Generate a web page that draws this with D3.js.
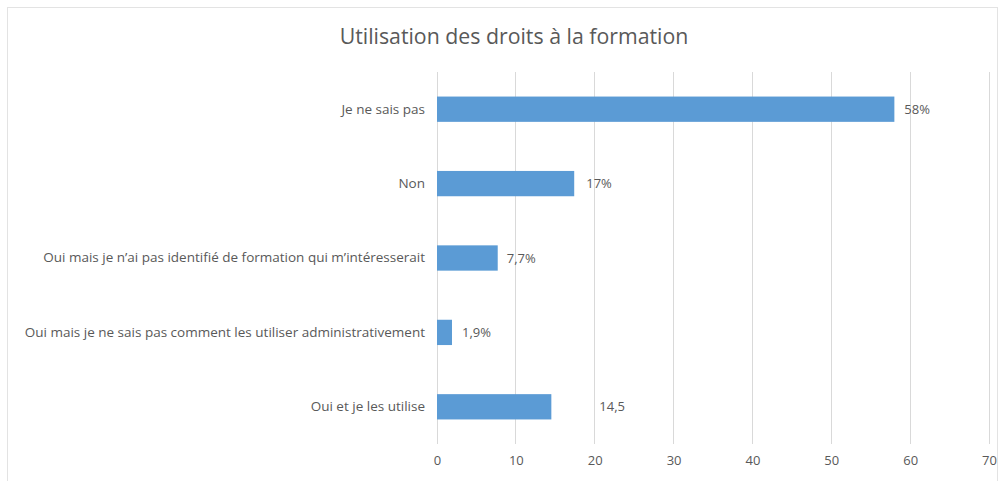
<!DOCTYPE html>
<html><head><meta charset="utf-8">
<script src="https://cdn.jsdelivr.net/npm/d3@7"></script>
<style>body{margin:0;background:#fff}svg{display:block}</style>
</head><body>
<script>
const title = "Utilisation des droits à la formation";
const categories = [
  "Je ne sais pas",
  "Non",
  "Oui mais je n’ai pas identifié  de formation qui m’intéresserait",
  "Oui mais je ne sais pas comment les utiliser administrativement",
  "Oui et je les utilise"
];
const values = [58, 17.4, 7.7, 1.9, 14.5];
const valueLabels = ["58%", "17%", "7,7%", "1,9%", "14,5"];
const xTicks = [0, 10, 20, 30, 40, 50, 60, 70];

const W = 1002, H = 481;
const margin = {left: 437, right: 13, top: 72, bottom: 37};
const font = "'Open Sans', 'Noto Sans', sans-serif";
const textColor = "#595959";

const svg = d3.select("body").append("svg").attr("width", W).attr("height", H);

svg.append("rect").attr("x", 7.5).attr("y", 7.5).attr("width", W - 12).attr("height", H)
  .attr("fill", "#fff").attr("stroke", "#e3e3e3");

const x = d3.scaleLinear().domain([0, 70]).range([margin.left, 989]);
const y = d3.scaleBand().domain(categories).range([margin.top, H - margin.bottom]).paddingInner(0.66).paddingOuter(0.33);

// gridlines
svg.append("g").selectAll("line").data(xTicks).join("line")
  .attr("x1", d => x(d)).attr("x2", d => x(d))
  .attr("y1", margin.top).attr("y2", H - margin.bottom)
  .attr("stroke", "#d9d9d9").attr("stroke-width", 1)
  .attr("shape-rendering", "crispEdges");

// x tick labels
const xAxis = d3.axisBottom(x).tickValues(xTicks).tickSize(0).tickPadding(0).tickFormat(d3.format("d"));
const gx = svg.append("g").attr("transform", `translate(0,${H - margin.bottom + 12})`).call(xAxis);
gx.select(".domain").remove();
gx.selectAll("text").attr("fill", textColor).style("font-family", font).style("font-size", "13px");

// y labels
const yAxis = d3.axisLeft(y).tickSize(0).tickPadding(12);
const gy = svg.append("g").attr("transform", `translate(${margin.left},0)`).call(yAxis);
gy.select(".domain").remove();
gy.selectAll("text").attr("fill", textColor).style("font-family", font).style("font-size", "13.5px");

// bars
svg.append("g").selectAll("rect").data(values).join("rect")
  .attr("x", x(0))
  .attr("y", (d, i) => y(categories[i]))
  .attr("width", d => x(d) - x(0))
  .attr("height", y.bandwidth())
  .attr("fill", "#5b9bd5");

// value labels
const labelDx = [10, 12, 9, 10, 48];
svg.append("g").selectAll("text").data(values).join("text")
  .attr("x", (d, i) => x(d) + labelDx[i])
  .attr("y", (d, i) => y(categories[i]) + y.bandwidth() / 2)
  .attr("dy", "0.35em")
  .attr("fill", textColor).style("font-family", font).style("font-size", "13px")
  .text((d, i) => valueLabels[i]);

// title
svg.append("text").attr("x", 514).attr("y", 44).attr("text-anchor", "middle")
  .attr("fill", textColor).style("font-family", font).style("font-size", "21.3px")
  .text(title);
</script>
</body></html>
